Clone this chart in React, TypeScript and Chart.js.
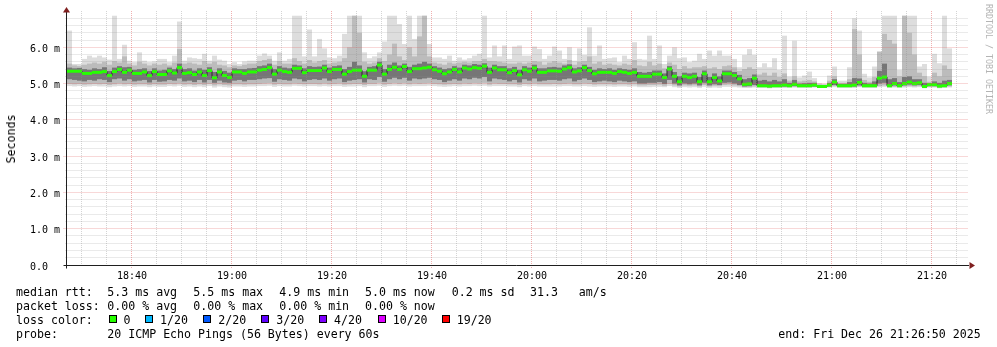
import React, { useEffect, useRef } from "react";
import { Chart, registerables } from "chart.js";

Chart.register(...registerables);

// ---- time axis (minutes after 18:00) ----
const START_MINUTE = 27; // first sample 18:27, one sample every 60 s
const STEP_MINUTES = 1;
const X_MIN = 27;
const X_MAX = 207;
const Y_MIN = 0;
const Y_MAX = 7;

const xTickMinutes = [40, 60, 80, 100, 120, 140, 160, 180, 200];
const xTickLabels = ["18:40", "19:00", "19:20", "19:40", "20:00", "20:20", "20:40", "21:00", "21:20"];
const yTickValues = [0, 1, 2, 3, 4, 5, 6];
const yTickLabels = ["0.0", "1.0 m", "2.0 m", "3.0 m", "4.0 m", "5.0 m", "6.0 m"];

// ---- round-trip times in ms, one value per 60 s sample ----
const rttMedian = [
  5.34, 5.34, 5.34, 5.28, 5.28, 5.31, 5.31, 5.33, 5.22, 5.33,
  5.39, 5.31, 5.37, 5.28, 5.28, 5.32, 5.22, 5.33, 5.25, 5.25,
  5.35, 5.29, 5.44, 5.28, 5.30, 5.25, 5.32, 5.22, 5.36, 5.16,
  5.32, 5.22, 5.17, 5.32, 5.32, 5.28, 5.32, 5.32, 5.37, 5.39,
  5.44, 5.26, 5.37, 5.33, 5.31, 5.42, 5.42, 5.30, 5.36, 5.36,
  5.36, 5.43, 5.33, 5.39, 5.39, 5.26, 5.33, 5.37, 5.37, 5.20,
  5.37, 5.37, 5.51, 5.26, 5.39, 5.45, 5.39, 5.47, 5.33, 5.41,
  5.41, 5.43, 5.45, 5.38, 5.34, 5.27, 5.32, 5.39, 5.32, 5.43,
  5.40, 5.44, 5.42, 5.48, 5.31, 5.43, 5.38, 5.38, 5.30, 5.36,
  5.24, 5.38, 5.34, 5.43, 5.31, 5.31, 5.35, 5.35, 5.34, 5.40,
  5.44, 5.32, 5.35, 5.44, 5.36, 5.27, 5.31, 5.31, 5.31, 5.28,
  5.33, 5.31, 5.28, 5.31, 5.20, 5.20, 5.20, 5.26, 5.26, 5.17,
  5.40, 5.20, 5.05, 5.20, 5.17, 5.20, 5.05, 5.27, 5.05, 5.17,
  5.07, 5.27, 5.27, 5.22, 5.13, 4.98, 4.99, 5.15, 4.94, 4.94,
  4.93, 4.94, 4.94, 4.96, 4.94, 4.98, 4.94, 4.94, 4.94, 4.96,
  4.92, 4.92, 4.96, 5.04, 4.94, 4.94, 4.94, 4.96, 5.03, 4.94,
  4.94, 4.94, 5.15, 5.18, 4.94, 5.00, 4.94, 5.00, 5.04, 5.00,
  5.02, 4.92, 4.97, 4.97, 4.93, 4.94, 5.00,
];

const rttMax = [
  6.46, 5.54, 5.54, 5.68, 5.77, 5.72, 5.77, 5.72, 5.66, 6.87,
  5.68, 6.07, 5.63, 5.59, 5.86, 5.63, 5.59, 5.61, 5.68, 5.68,
  5.59, 5.77, 6.71, 5.63, 5.72, 5.70, 5.68, 5.82, 5.63, 5.77,
  5.66, 5.63, 5.54, 5.59, 5.54, 5.61, 5.63, 5.63, 5.77, 5.83,
  5.77, 5.63, 5.86, 5.63, 5.68, 6.87, 6.87, 5.75, 6.49, 5.75,
  6.23, 5.97, 5.72, 5.70, 5.77, 6.37, 6.87, 6.87, 6.87, 5.86,
  5.70, 5.75, 5.86, 6.16, 6.87, 6.87, 6.64, 6.09, 6.87, 6.23,
  6.87, 6.87, 6.09, 5.72, 5.72, 5.68, 5.77, 5.63, 5.72, 5.66,
  5.70, 5.77, 5.82, 6.87, 5.72, 6.05, 5.75, 6.05, 5.68, 6.02,
  6.05, 5.77, 5.77, 6.02, 5.95, 5.68, 5.77, 6.02, 5.91, 5.68,
  6.00, 5.63, 5.97, 5.79, 6.55, 5.77, 6.05, 5.68, 5.70, 5.72,
  5.59, 5.77, 5.68, 6.14, 5.68, 5.66, 6.32, 5.68, 6.05, 5.54,
  5.77, 6.00, 5.70, 5.72, 5.59, 5.63, 5.82, 5.68, 5.91, 5.77,
  5.91, 5.77, 5.77, 5.68, 5.45, 5.79, 5.95, 5.79, 5.45, 5.56,
  5.45, 5.70, 5.38, 6.32, 5.19, 6.18, 5.17, 5.22, 5.33, 5.15,
  5.01, 4.99, 5.22, 5.47, 5.08, 5.08, 5.45, 6.80, 6.46, 5.27,
  5.17, 5.47, 5.88, 6.87, 6.87, 6.87, 5.38, 6.87, 6.87, 6.87,
  5.47, 5.54, 5.19, 5.82, 5.56, 6.87, 5.97,
];

const rttHi = [
  5.55, 5.50, 5.48, 5.52, 5.55, 5.58, 5.55, 5.60, 5.52, 5.62,
  5.58, 5.75, 5.55, 5.50, 5.60, 5.55, 5.50, 5.55, 5.52, 5.55,
  5.50, 5.58, 5.95, 5.55, 5.58, 5.55, 5.52, 5.62, 5.55, 5.60,
  5.52, 5.50, 5.45, 5.50, 5.48, 5.52, 5.55, 5.55, 5.62, 5.65,
  5.68, 5.52, 5.62, 5.55, 5.55, 5.70, 5.62, 5.55, 5.65, 5.58,
  5.62, 5.65, 5.55, 5.58, 5.60, 5.70, 6.00, 6.87, 6.40, 5.60,
  5.55, 5.58, 5.70, 5.62, 5.80, 6.10, 5.75, 5.65, 6.00, 5.75,
  6.30, 6.87, 5.75, 5.58, 5.55, 5.52, 5.58, 5.55, 5.58, 5.60,
  5.58, 5.62, 5.62, 5.68, 5.62, 5.62, 5.60, 5.58, 5.55, 5.55,
  5.58, 5.55, 5.58, 5.62, 5.60, 5.52, 5.58, 5.62, 5.58, 5.55,
  5.65, 5.52, 5.60, 5.62, 5.75, 5.55, 5.60, 5.52, 5.55, 5.52,
  5.50, 5.55, 5.52, 5.65, 5.50, 5.48, 5.60, 5.50, 5.55, 5.42,
  5.58, 5.52, 5.40, 5.48, 5.42, 5.45, 5.45, 5.48, 5.42, 5.45,
  5.40, 5.48, 5.50, 5.45, 5.35, 5.40, 5.45, 5.40, 5.25, 5.30,
  5.22, 5.30, 5.18, 5.28, 5.08, 5.20, 5.06, 5.08, 5.10, 5.06,
  4.98, 4.97, 5.08, 5.20, 5.02, 5.02, 5.12, 6.50, 5.80, 5.10,
  5.05, 5.18, 5.88, 6.37, 6.20, 6.10, 5.20, 6.87, 6.40, 5.80,
  5.30, 5.20, 5.05, 5.30, 5.20, 5.50, 5.40,
];

const rttCoreHi = [
  5.44, 5.42, 5.43, 5.40, 5.38, 5.42, 5.40, 5.45, 5.35, 5.44,
  5.48, 5.45, 5.46, 5.38, 5.40, 5.42, 5.35, 5.42, 5.36, 5.38,
  5.44, 5.40, 5.55, 5.40, 5.42, 5.36, 5.42, 5.38, 5.45, 5.32,
  5.42, 5.35, 5.30, 5.42, 5.40, 5.40, 5.42, 5.43, 5.48, 5.50,
  5.55, 5.40, 5.48, 5.44, 5.42, 5.52, 5.50, 5.42, 5.48, 5.46,
  5.47, 5.52, 5.44, 5.48, 5.50, 5.40, 5.46, 5.60, 5.50, 5.34,
  5.46, 5.48, 5.60, 5.40, 5.52, 5.58, 5.50, 5.55, 5.46, 5.52,
  5.55, 5.60, 5.55, 5.48, 5.44, 5.40, 5.42, 5.48, 5.44, 5.52,
  5.50, 5.54, 5.52, 5.56, 5.44, 5.52, 5.48, 5.48, 5.42, 5.46,
  5.38, 5.48, 5.44, 5.52, 5.42, 5.42, 5.45, 5.46, 5.44, 5.50,
  5.53, 5.42, 5.45, 5.52, 5.46, 5.38, 5.42, 5.40, 5.42, 5.38,
  5.42, 5.40, 5.38, 5.42, 5.32, 5.30, 5.32, 5.36, 5.36, 5.28,
  5.48, 5.32, 5.20, 5.30, 5.28, 5.30, 5.18, 5.36, 5.18, 5.28,
  5.20, 5.36, 5.36, 5.32, 5.24, 5.12, 5.15, 5.25, 5.08, 5.10,
  5.06, 5.10, 5.06, 5.12, 5.02, 5.10, 5.00, 5.01, 5.02, 5.02,
  4.96, 4.95, 5.02, 5.12, 4.99, 4.99, 5.04, 5.15, 5.14, 5.02,
  5.00, 5.06, 5.35, 5.55, 5.12, 5.15, 5.04, 5.18, 5.20, 5.12,
  5.12, 5.02, 5.00, 5.06, 5.02, 5.08, 5.10,
];

const rttCoreLo = [
  5.12, 5.10, 5.08, 5.06, 5.10, 5.08, 5.12, 5.10, 5.04, 5.12,
  5.14, 5.08, 5.12, 5.06, 5.08, 5.10, 5.03, 5.10, 5.05, 5.06,
  5.10, 5.08, 5.14, 5.06, 5.08, 5.04, 5.10, 5.03, 5.10, 5.02,
  5.08, 5.03, 5.02, 5.08, 5.10, 5.06, 5.10, 5.10, 5.12, 5.14,
  5.15, 5.05, 5.12, 5.10, 5.08, 5.14, 5.12, 5.06, 5.10, 5.12,
  5.10, 5.14, 5.08, 5.12, 5.14, 5.04, 5.08, 5.10, 5.12, 5.03,
  5.12, 5.10, 5.18, 5.05, 5.12, 5.16, 5.12, 5.16, 5.08, 5.14,
  5.12, 5.14, 5.16, 5.12, 5.10, 5.04, 5.08, 5.12, 5.08, 5.14,
  5.12, 5.16, 5.14, 5.18, 5.06, 5.14, 5.12, 5.10, 5.06, 5.10,
  5.03, 5.12, 5.08, 5.14, 5.06, 5.08, 5.10, 5.10, 5.08, 5.12,
  5.14, 5.06, 5.10, 5.14, 5.10, 5.04, 5.06, 5.08, 5.06, 5.04,
  5.08, 5.06, 5.04, 5.06, 5.00, 5.00, 5.02, 5.02, 5.04, 4.99,
  5.10, 5.00, 4.95, 5.00, 4.98, 5.00, 4.95, 5.02, 4.95, 4.98,
  4.96, 5.02, 5.03, 5.00, 4.96, 4.92, 4.93, 4.96, 4.91, 4.91,
  4.90, 4.91, 4.91, 4.92, 4.91, 4.93, 4.91, 4.91, 4.91, 4.92,
  4.90, 4.90, 4.92, 4.96, 4.91, 4.91, 4.91, 4.92, 4.95, 4.91,
  4.91, 4.91, 5.00, 5.02, 4.91, 4.95, 4.91, 4.95, 4.97, 4.95,
  4.96, 4.90, 4.93, 4.93, 4.90, 4.91, 4.95,
];

const rttLo = [
  4.99, 4.98, 4.99, 4.97, 4.98, 4.99, 4.98, 4.99, 4.96, 4.98,
  5.00, 4.98, 4.99, 4.97, 4.98, 4.98, 4.96, 4.98, 4.97, 4.97,
  4.99, 4.98, 5.00, 4.97, 4.98, 4.96, 4.98, 4.96, 4.99, 4.95,
  4.98, 4.96, 4.95, 4.98, 4.98, 4.97, 4.98, 4.98, 4.99, 5.00,
  5.01, 4.97, 4.99, 4.98, 4.98, 5.00, 4.99, 4.98, 4.99, 4.99,
  4.98, 5.00, 4.98, 4.99, 5.00, 4.97, 4.98, 4.99, 4.99, 4.96,
  4.99, 4.99, 5.02, 4.97, 4.99, 5.01, 4.99, 5.01, 4.98, 5.00,
  4.99, 5.00, 5.01, 4.99, 4.98, 4.97, 4.98, 4.99, 4.98, 5.00,
  4.99, 5.01, 5.00, 5.02, 4.97, 5.00, 4.99, 4.99, 4.98, 4.98,
  4.96, 4.99, 4.98, 5.00, 4.98, 4.98, 4.98, 4.99, 4.98, 4.99,
  5.00, 4.98, 4.98, 5.00, 4.99, 4.97, 4.98, 4.98, 4.98, 4.97,
  4.98, 4.98, 4.97, 4.98, 4.95, 4.95, 4.96, 4.96, 4.97, 4.94,
  4.99, 4.95, 4.92, 4.95, 4.94, 4.95, 4.92, 4.96, 4.92, 4.94,
  4.93, 4.96, 4.97, 4.95, 4.93, 4.90, 4.90, 4.92, 4.90, 4.90,
  4.89, 4.90, 4.90, 4.90, 4.90, 4.91, 4.90, 4.90, 4.90, 4.91,
  4.89, 4.89, 4.91, 4.93, 4.90, 4.90, 4.90, 4.90, 4.92, 4.90,
  4.90, 4.90, 4.93, 4.95, 4.90, 4.91, 4.90, 4.92, 4.93, 4.92,
  4.93, 4.89, 4.91, 4.91, 4.89, 4.90, 4.92,
];

const rttMin = [
  4.93, 4.92, 4.93, 4.91, 4.92, 4.93, 4.92, 4.92, 4.90, 4.92,
  4.93, 4.92, 4.93, 4.91, 4.92, 4.92, 4.90, 4.92, 4.91, 4.91,
  4.93, 4.92, 4.94, 4.91, 4.92, 4.90, 4.92, 4.90, 4.93, 4.89,
  4.92, 4.90, 4.89, 4.92, 4.92, 4.91, 4.92, 4.92, 4.93, 4.93,
  4.94, 4.91, 4.93, 4.92, 4.92, 4.94, 4.93, 4.92, 4.93, 4.93,
  4.92, 4.93, 4.92, 4.93, 4.93, 4.91, 4.92, 4.92, 4.93, 4.90,
  4.93, 4.93, 4.94, 4.91, 4.93, 4.94, 4.93, 4.94, 4.92, 4.93,
  4.93, 4.93, 4.94, 4.93, 4.92, 4.91, 4.92, 4.93, 4.92, 4.93,
  4.93, 4.94, 4.93, 4.94, 4.92, 4.93, 4.93, 4.93, 4.92, 4.92,
  4.90, 4.93, 4.92, 4.93, 4.92, 4.92, 4.92, 4.92, 4.92, 4.93,
  4.93, 4.92, 4.92, 4.93, 4.92, 4.91, 4.92, 4.92, 4.92, 4.91,
  4.92, 4.92, 4.91, 4.92, 4.90, 4.90, 4.90, 4.91, 4.91, 4.90,
  4.93, 4.90, 4.88, 4.90, 4.89, 4.90, 4.88, 4.91, 4.88, 4.89,
  4.88, 4.91, 4.91, 4.90, 4.89, 4.88, 4.88, 4.89, 4.88, 4.88,
  4.87, 4.88, 4.88, 4.88, 4.88, 4.89, 4.88, 4.88, 4.88, 4.89,
  4.88, 4.88, 4.89, 4.90, 4.88, 4.88, 4.88, 4.88, 4.90, 4.88,
  4.88, 4.88, 4.90, 4.91, 4.88, 4.89, 4.88, 4.89, 4.90, 4.89,
  4.90, 4.87, 4.89, 4.89, 4.87, 4.88, 4.89,
];

// ---- legend texts ----
const rttStatsLabel = "median rtt:";
const rttStats = ["5.3 ms avg", "5.5 ms max", "4.9 ms min", "5.0 ms now", "0.2 ms sd", "31.3   am/s"];
const lossStatsLabel = "packet loss:";
const lossStats = ["0.00 % avg", "0.00 % max", "0.00 % min", "0.00 % now"];
const lossColorLabel = "loss color:";
const lossLevels = ["0", "1/20", "2/20", "3/20", "4/20", "10/20", "19/20"];
const lossColors = ["#26ff00", "#00b8ff", "#0059ff", "#5e00ff", "#7e00ff", "#dd00ff", "#ff0000"];
const probeLabel = "probe:";
const probeText = "20 ICMP Echo Pings (56 Bytes) every 60s";
const endText = "end: Fri Dec 26 21:26:50 2025";
const yAxisTitle = "Seconds";
const watermark = "RRDTOOL / TOBI OETIKER";

// ---- layout (pixels) ----
const W = 997;
const H = 347;
const MONO = '"DejaVu Sans Mono", "Liberation Mono", monospace';
const statX = [107.3, 193.3, 279.3, 365, 451.7, 530];
const lossTextX = [123.5, 160, 218.3, 276.3, 334, 392.7, 456.7];
const lineBaselines = [295.5, 309.5, 323.5, 337.5];

const SMOKE_OUTER = "#dddddd";
const SMOKE_MID = "#bcbcbc";
const SMOKE_CORE = "#767676";
const MEDIAN_HALF_PX = 1.5;

const rrdPlugin = {
  id: "rrdDecor",
  afterDatasetsDraw(chart: any) {
    const { ctx, chartArea, scales } = chart;
    const xs = scales.x;
    const ys = scales.y;
    const axisX = Math.round(xs.getPixelForValue(X_MIN)) - 0.5;
    const axisY = Math.floor(ys.getPixelForValue(0)) + 0.5;
    const top = chartArea.top;
    const right = chartArea.right + 1;
    ctx.save();
    ctx.lineWidth = 1;
    ctx.setLineDash([1, 1]);
    // horizontal grid
    for (let k = 1; k <= 34; k++) {
      const v = k / 5;
      const major = k % 5 === 0;
      const py = Math.floor(ys.getPixelForValue(v)) + 0.5;
      ctx.strokeStyle = major ? "rgba(222,79,79,0.45)" : "rgba(143,143,143,0.38)";
      ctx.beginPath();
      ctx.moveTo(major ? axisX - 3 : axisX - 1, py);
      ctx.lineTo(right, py);
      ctx.stroke();
    }
    // vertical grid
    for (let m = 30; m < X_MAX; m += 5) {
      const major = m % 20 === 0;
      const px = Math.round(xs.getPixelForValue(m)) - 0.5;
      ctx.strokeStyle = major ? "rgba(222,79,79,0.45)" : "rgba(143,143,143,0.38)";
      ctx.beginPath();
      ctx.moveTo(px, top);
      ctx.lineTo(px, axisY + (major ? 3 : 1));
      ctx.stroke();
    }
    ctx.setLineDash([]);
    // axes
    ctx.strokeStyle = "#1f1f1f";
    ctx.beginPath();
    ctx.moveTo(axisX, axisY + 3);
    ctx.lineTo(axisX, top + 1);
    ctx.stroke();
    ctx.beginPath();
    ctx.moveTo(axisX - 3, axisY);
    ctx.lineTo(right + 1, axisY);
    ctx.stroke();
    // arrows
    ctx.fillStyle = "#7f1f1f";
    ctx.beginPath();
    ctx.moveTo(axisX, top - 4);
    ctx.lineTo(axisX + 3.5, top + 1.5);
    ctx.lineTo(axisX - 3.5, top + 1.5);
    ctx.closePath();
    ctx.fill();
    ctx.beginPath();
    ctx.moveTo(right + 7, axisY);
    ctx.lineTo(right + 1.5, axisY - 3.5);
    ctx.lineTo(right + 1.5, axisY + 3.5);
    ctx.closePath();
    ctx.fill();
    // tick labels
    ctx.fillStyle = "#000";
    ctx.font = `10px ${MONO}`;
    ctx.textBaseline = "alphabetic";
    ctx.textAlign = "center";
    xTickMinutes.forEach((m, i) => {
      ctx.fillText(xTickLabels[i], xs.getPixelForValue(m), axisY + 13);
    });
    ctx.textAlign = "left";
    yTickValues.forEach((v, i) => {
      const py = Math.floor(ys.getPixelForValue(v)) + 0.5;
      ctx.fillText(yTickLabels[i], 30, py + 4.5);
    });
    ctx.restore();
  },
};

export default function App() {
  const canvasRef = useRef<HTMLCanvasElement | null>(null);

  useEffect(() => {
    const canvas = canvasRef.current;
    if (!canvas) return;
    const xVals = rttMedian.map((_, i) => START_MINUTE + i * STEP_MINUTES + STEP_MINUTES / 2);
    const band = (lo: number[], hi: number[]) => xVals.map((x, i) => ({ x, y: [lo[i], hi[i]] }));
    const barCommon = {
      type: "bar" as const,
      barPercentage: 1,
      categoryPercentage: 1,
      grouped: false,
      borderWidth: 0,
      inflateAmount: 0,
    };
    const pxPerMs = (265 - 11) / (Y_MAX - Y_MIN);
    const half = MEDIAN_HALF_PX / pxPerMs;

    const chart = new Chart(canvas, {
      type: "bar",
      data: {
        datasets: [
          { ...barCommon, label: "smoke outer", data: band(rttMin, rttMax), backgroundColor: SMOKE_OUTER, order: 5 },
          { ...barCommon, label: "smoke mid", data: band(rttLo, rttHi), backgroundColor: SMOKE_MID, order: 4 },
          { ...barCommon, label: "smoke core", data: band(rttCoreLo, rttCoreHi), backgroundColor: SMOKE_CORE, order: 3 },
          {
            type: "line",
            label: "median step",
            data: xVals.map((x, i) => ({ x, y: rttMedian[i] })),
            borderColor: "#262626",
            borderWidth: 1,
            pointRadius: 0,
            stepped: "middle",
            order: 2,
          },
          {
            ...barCommon,
            label: "median rtt",
            data: xVals.map((x, i) => ({ x, y: [rttMedian[i] - half, rttMedian[i] + half] })),
            backgroundColor: lossColors[0],
            order: 1,
          },
        ] as any,
      },
      options: {
        responsive: false,
        animation: false,
        devicePixelRatio: 1,
        events: [],
        layout: { padding: { left: 67, right: 30, top: 11, bottom: 82 } },
        plugins: { legend: { display: false }, tooltip: { enabled: false } },
        scales: {
          x: { type: "linear", min: X_MIN, max: X_MAX, offset: false, display: false },
          y: { type: "linear", min: Y_MIN, max: Y_MAX, display: false },
        },
      } as any,
      plugins: [rrdPlugin],
    });
    return () => chart.destroy();
  }, []);

  const textStyle = (x: number, baseline: number): React.CSSProperties => ({
    position: "absolute",
    left: x,
    top: baseline - 11,
    font: `11.6px ${MONO}`,
    lineHeight: "14px",
    whiteSpace: "pre",
    color: "#000",
  });

  return (
    <div
      style={{
        position: "absolute",
        left: 0,
        top: 0,
        width: W,
        height: H,
        background: "#ffffff",
        overflow: "hidden",
      }}
    >
      <canvas ref={canvasRef} width={W} height={H} style={{ position: "absolute", left: 0, top: 0 }} />
      <span
        style={{
          position: "absolute",
          left: 11,
          top: 139,
          transform: "translate(-50%, -50%) rotate(-90deg)",
          font: `11.6px ${MONO}`,
          lineHeight: "14px",
          whiteSpace: "pre",
          color: "#000",
        }}
      >
        {yAxisTitle}
      </span>
      <span
        style={{
          position: "absolute",
          left: 983.5,
          top: 4,
          writingMode: "vertical-rl",
          font: `8.3px ${MONO}`,
          lineHeight: "9px",
          whiteSpace: "pre",
          color: "#b4b4b4",
        }}
      >
        {watermark}
      </span>

      <span style={textStyle(16, lineBaselines[0])}>{rttStatsLabel}</span>
      {rttStats.map((t, i) => (
        <span key={"r" + i} style={textStyle(statX[i], lineBaselines[0])}>{t}</span>
      ))}

      <span style={textStyle(16, lineBaselines[1])}>{lossStatsLabel}</span>
      {lossStats.map((t, i) => (
        <span key={"l" + i} style={textStyle(statX[i], lineBaselines[1])}>{t}</span>
      ))}

      <span style={textStyle(16, lineBaselines[2])}>{lossColorLabel}</span>
      {lossLevels.map((t, i) => (
        <React.Fragment key={"c" + i}>
          <span
            style={{
              position: "absolute",
              left: lossTextX[i] - 15,
              top: lineBaselines[2] - 8.5,
              width: 8,
              height: 8,
              boxSizing: "border-box",
              border: "1px solid #000",
              background: lossColors[i],
            }}
          />
          <span style={textStyle(lossTextX[i], lineBaselines[2])}>{t}</span>
        </React.Fragment>
      ))}

      <span style={textStyle(16, lineBaselines[3])}>{probeLabel}</span>
      <span style={textStyle(statX[0], lineBaselines[3])}>{probeText}</span>
      <span style={textStyle(778.3, lineBaselines[3])}>{endText}</span>
    </div>
  );
}
